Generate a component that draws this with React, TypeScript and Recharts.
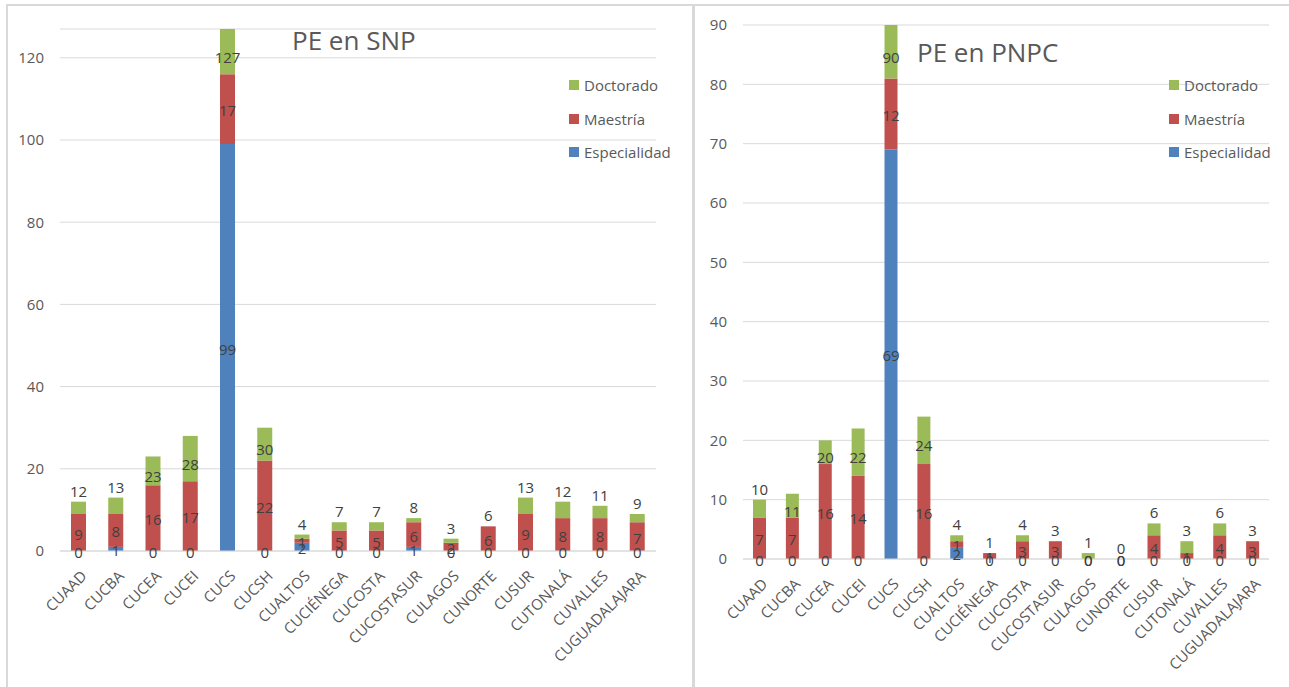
import React from "react";
import {
  BarChart,
  Bar,
  XAxis,
  YAxis,
  CartesianGrid,
  LabelList,
} from "recharts";

// campus names (same for both charts)
const campus = [
  "CUAAD", "CUCBA", "CUCEA", "CUCEI", "CUCS", "CUCSH", "CUALTOS", "CUCIÉNEGA",
  "CUCOSTA", "CUCOSTASUR", "CULAGOS", "CUNORTE", "CUSUR", "CUTONALÁ", "CUVALLES",
  "CUGUADALAJARA",
];

// PE en SNP
const snpEspecialidad = [0, 1, 0, 0, 99, 0, 2, 0, 0, 1, 0, 0, 0, 0, 0, 0];
const snpMaestria = [9, 8, 16, 17, 17, 22, 1, 5, 5, 6, 2, 6, 9, 8, 8, 7];
const snpDoctorado = [3, 4, 7, 11, 11, 8, 1, 2, 2, 1, 1, 0, 4, 4, 3, 2];
const snpTicks = [0, 20, 40, 60, 80, 100, 120];

// PE en PNPC
const pnpcEspecialidad = [0, 0, 0, 0, 69, 0, 2, 0, 0, 0, 0, 0, 0, 0, 0, 0];
const pnpcMaestria = [7, 7, 16, 14, 12, 16, 1, 1, 3, 3, 0, 0, 4, 1, 4, 3];
const pnpcDoctorado = [3, 4, 4, 8, 9, 8, 1, 0, 1, 0, 1, 0, 2, 2, 2, 0];
const pnpcTicks = [0, 10, 20, 30, 40, 50, 60, 70, 80, 90];

const series = [
  { key: "esp", name: "Especialidad", color: "#4F81BD" },
  { key: "mae", name: "Maestría", color: "#C0504D" },
  { key: "doc", name: "Doctorado", color: "#9BBB59" },
];

const FONT = "'Open Sans', sans-serif";
const TEXT = "#595959";
const LABEL = "#404040";

const buildRows = (esp: number[], mae: number[], doc: number[]) =>
  campus.map((name, i) => ({
    name,
    esp: esp[i],
    mae: mae[i],
    doc: doc[i],
    total: esp[i] + mae[i] + doc[i],
  }));

const snpData = buildRows(snpEspecialidad, snpMaestria, snpDoctorado);
const pnpcData = buildRows(pnpcEspecialidad, pnpcMaestria, pnpcDoctorado);

const AngledTick = (props: any) => {
  const { x, y, payload } = props;
  return (
    <g transform={`translate(${x + 9},${y + 18})`}>
      <text
        textAnchor="end"
        transform="rotate(-45)"
        fill={TEXT}
        fontSize={15}
        fontFamily={FONT}
      >
        {payload.value}
      </text>
    </g>
  );
};

// value in the middle of its segment
const centerLabel = (props: any) => {
  const { x, y, width, height, value } = props;
  return (
    <text
      x={x + width / 2}
      y={y + height / 2 + 1}
      textAnchor="middle"
      dominantBaseline="central"
      fill={LABEL}
      fontSize={15}
      fontFamily={FONT}
    >
      {value}
    </text>
  );
};

// the green segment carries the total of the bar
const totalLabel = (props: any) => {
  const { x, y, width, height, value } = props;
  const cy = height >= 22 ? y + height / 2 + 5 : y - 11;
  return (
    <text
      x={x + width / 2}
      y={cy}
      textAnchor="middle"
      dominantBaseline="central"
      fill={LABEL}
      fontSize={15}
      fontFamily={FONT}
    >
      {value}
    </text>
  );
};

const LegendBox = ({ left, top }: { left: number; top: number }) => (
  <div style={{ position: "absolute", left, top, fontFamily: FONT }}>
    {[...series].reverse().map((s, i) => (
      <div
        key={s.key}
        style={{
          position: "absolute",
          top: i * 33.5,
          left: 0,
          display: "flex",
          alignItems: "center",
          whiteSpace: "nowrap",
          fontSize: 15,
          color: TEXT,
          height: 20,
        }}
      >
        <span
          style={{
            width: 10,
            height: 10,
            background: s.color,
            display: "inline-block",
            marginRight: 5,
          }}
        />
        {s.name}
      </div>
    ))}
  </div>
);

const StackChart = ({
  data,
  ticks,
  max,
  width,
  top,
  right,
  yWidth,
  xHeight,
  barSize,
}: any) => (
  <BarChart
    width={width}
    height={687}
    data={data}
    margin={{ top, right, left: 0, bottom: 0 }}
  >
    <CartesianGrid vertical={false} stroke="#d9d9d9" />
    <XAxis
      dataKey="name"
      interval={0}
      height={xHeight}
      tick={<AngledTick />}
      tickLine={false}
      axisLine={{ stroke: "#d9d9d9" }}
    />
    <YAxis
      domain={[0, max]}
      ticks={ticks}
      width={yWidth}
      allowDataOverflow
      axisLine={false}
      tickLine={false}
      tickMargin={10}
      tick={{ fill: TEXT, fontSize: 15, fontFamily: FONT }}
    />
    {series.map((s) => (
      <Bar
        key={s.key}
        dataKey={s.key}
        name={s.name}
        stackId="a"
        fill={s.color}
        barSize={barSize}
        minPointSize={0.01}
        isAnimationActive={false}
      >
        <LabelList
          dataKey={s.key === "doc" ? "total" : s.key}
          content={s.key === "doc" ? totalLabel : centerLabel}
        />
      </Bar>
    ))}
  </BarChart>
);

export default function App() {
  return (
    <div
      style={{
        position: "absolute",
        left: 0,
        top: 0,
        width: 1289,
        height: 687,
        background: "#fff",
        overflow: "hidden",
        fontFamily: FONT,
      }}
    >
      {/* frame lines */}
      <div style={{ position: "absolute", left: 6, top: 4, width: 1283, height: 2, background: "#d9d9d9" }} />
      <div style={{ position: "absolute", left: 6, top: 4, width: 2, height: 683, background: "#d9d9d9" }} />
      <div style={{ position: "absolute", left: 692, top: 4, width: 3, height: 683, background: "#d9d9d9" }} />

      <div style={{ position: "absolute", left: 0, top: 0 }}>
        <StackChart
          data={snpData}
          ticks={snpTicks}
          max={127}
          width={683}
          top={29}
          right={27}
          yWidth={60}
          xHeight={136}
          barSize={15}
        />
      </div>
      <div style={{ position: "absolute", left: 693, top: 0 }}>
        <StackChart
          data={pnpcData}
          ticks={pnpcTicks}
          max={90}
          width={596}
          top={25}
          right={20}
          yWidth={50}
          xHeight={128}
          barSize={13}
        />
      </div>

      <div style={{ position: "absolute", left: 292, top: 22, fontSize: 26, color: TEXT, whiteSpace: "nowrap" }}>
        PE en SNP
      </div>
      <div style={{ position: "absolute", left: 917, top: 34, fontSize: 26, color: TEXT, whiteSpace: "nowrap" }}>
        PE en PNPC
      </div>

      <LegendBox left={569} top={75} />
      <LegendBox left={1169} top={75} />
    </div>
  );
}
